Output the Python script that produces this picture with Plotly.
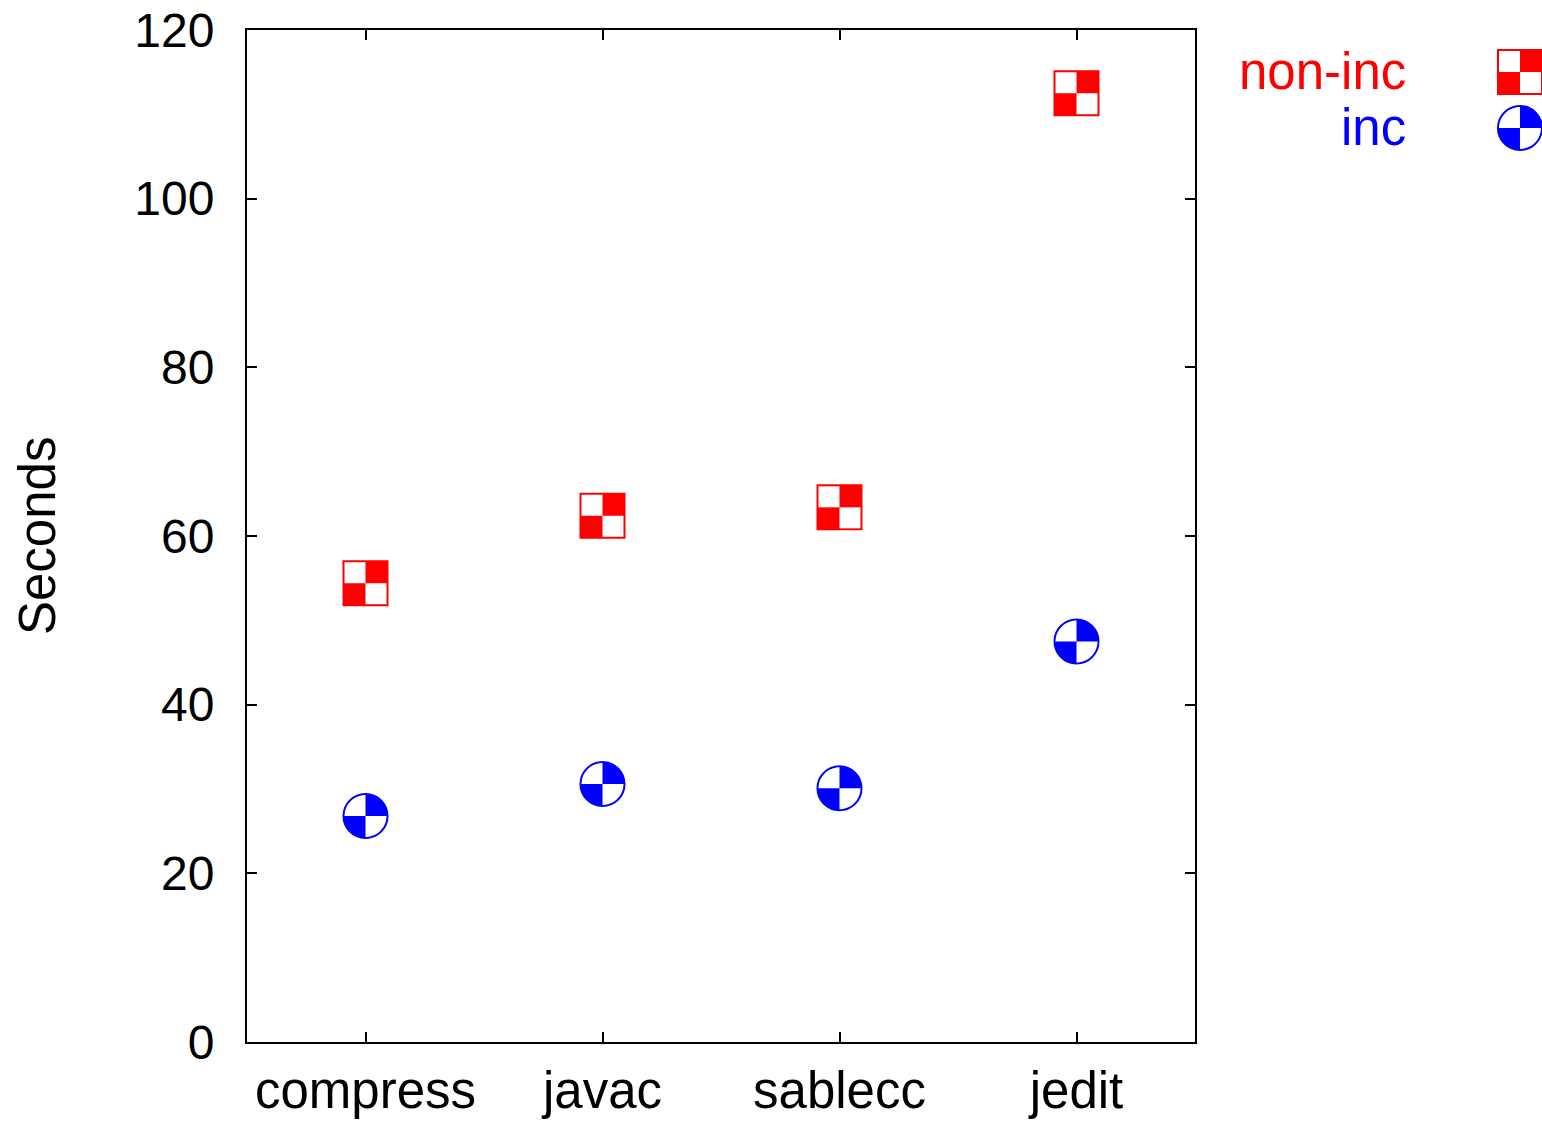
import plotly.graph_objects as go

categories = ["compress", "javac", "sablecc", "jedit"]
non_inc = [54.4, 62.4, 63.4, 112.5]
inc = [26.8, 30.6, 30.1, 47.5]
y_ticks = [0, 20, 40, 60, 80, 100, 120]
series_names = ["non-inc", "inc"]

RED = "#ff0000"
BLUE = "#0000ff"
FONT = "Liberation Sans, Arial, Helvetica, sans-serif"
FS_NUM = 48
FS_TXT = 51
x_pos = list(range(len(categories)))

fig = go.Figure()
fig.add_trace(go.Scatter(
    x=x_pos, y=non_inc, mode="markers", name=series_names[0],
    marker=dict(symbol="square", size=44, color=RED, line=dict(color=RED, width=2)),
    showlegend=False))
fig.add_trace(go.Scatter(
    x=x_pos, y=inc, mode="markers", name=series_names[1],
    marker=dict(symbol="circle", size=44, color=BLUE, line=dict(color=BLUE, width=2)),
    showlegend=False))

H = 21
K = 0.5523


def square_cells(xref, yref, xa, ya):
    base = dict(type="rect", xref=xref, yref=yref, xsizemode="pixel", ysizemode="pixel",
                xanchor=xa, yanchor=ya, fillcolor="white", line=dict(width=0), layer="above")
    return [dict(base, x0=-H, x1=0, y0=0, y1=H), dict(base, x0=0, x1=H, y0=-H, y1=0)]


def circle_quarters(xref, yref, xa, ya):
    R = H
    p1 = f"M0,0 L{-R},0 C{-R},{K*R:.2f} {-K*R:.2f},{R} 0,{R} Z"
    p2 = f"M0,0 L{R},0 C{R},{-K*R:.2f} {K*R:.2f},{-R} 0,{-R} Z"
    base = dict(type="path", xref=xref, yref=yref, xsizemode="pixel", ysizemode="pixel",
                xanchor=xa, yanchor=ya, fillcolor="white", line=dict(width=0), layer="above")
    return [dict(base, path=p1), dict(base, path=p2)]


shapes = []
for xi, v in zip(x_pos, non_inc):
    shapes += square_cells("x", "y", xi, v)
for xi, v in zip(x_pos, inc):
    shapes += circle_quarters("x", "y", xi, v)

# legend (gnuplot-style: text then sample, top right outside plot)
LX = 1.3428
LY = [0.9585, 0.9032]
shapes.append(dict(type="rect", xref="paper", yref="paper", xsizemode="pixel", ysizemode="pixel",
                   xanchor=LX, yanchor=LY[0], x0=-22, x1=22, y0=-22, y1=22,
                   fillcolor=RED, line=dict(color=RED, width=2), layer="above"))
shapes += square_cells("paper", "paper", LX, LY[0])
shapes.append(dict(type="circle", xref="paper", yref="paper", xsizemode="pixel", ysizemode="pixel",
                   xanchor=LX, yanchor=LY[1], x0=-22, x1=22, y0=-22, y1=22,
                   fillcolor=BLUE, line=dict(color=BLUE, width=2), layer="above"))
shapes += circle_quarters("paper", "paper", LX, LY[1])

annotations = [
    dict(text=series_names[0], x=1.2245, y=LY[0], xref="paper", yref="paper", xanchor="right",
         yanchor="middle", showarrow=False, font=dict(family=FONT, size=FS_TXT, color=RED)),
    dict(text=series_names[1], x=1.2245, y=LY[1], xref="paper", yref="paper", xanchor="right",
         yanchor="middle", showarrow=False, font=dict(family=FONT, size=FS_TXT, color=BLUE)),
    dict(text="Seconds", x=-0.2215, y=0.5, xref="paper", yref="paper", xanchor="center",
         yanchor="middle", textangle=-90, showarrow=False,
         font=dict(family=FONT, size=FS_TXT, color="black")),
]

axis_common = dict(showline=True, linecolor="black", linewidth=2, mirror="ticks", ticks="inside",
                   ticklen=10, tickwidth=2, tickcolor="black", showgrid=False, zeroline=False,
                   automargin=False, ticklabeloverflow="allow")

fig.update_layout(
    width=1542, height=1124,
    margin=dict(l=247, r=347, t=30, b=82),
    paper_bgcolor="white", plot_bgcolor="white",
    shapes=shapes, annotations=annotations,
    xaxis=dict(axis_common, range=[-0.5, 3.5], tickvals=x_pos, ticktext=categories,
               ticklabelstandoff=3, tickfont=dict(family=FONT, size=FS_TXT, color="black")),
    yaxis=dict(axis_common, range=[0, 120], tickvals=y_ticks,
               ticklabelstandoff=21, tickfont=dict(family=FONT, size=FS_NUM, color="black")),
)

fig.write_html("out.html", config={"displayModeBar": False},
               post_script="document.body.style.margin='0';")
